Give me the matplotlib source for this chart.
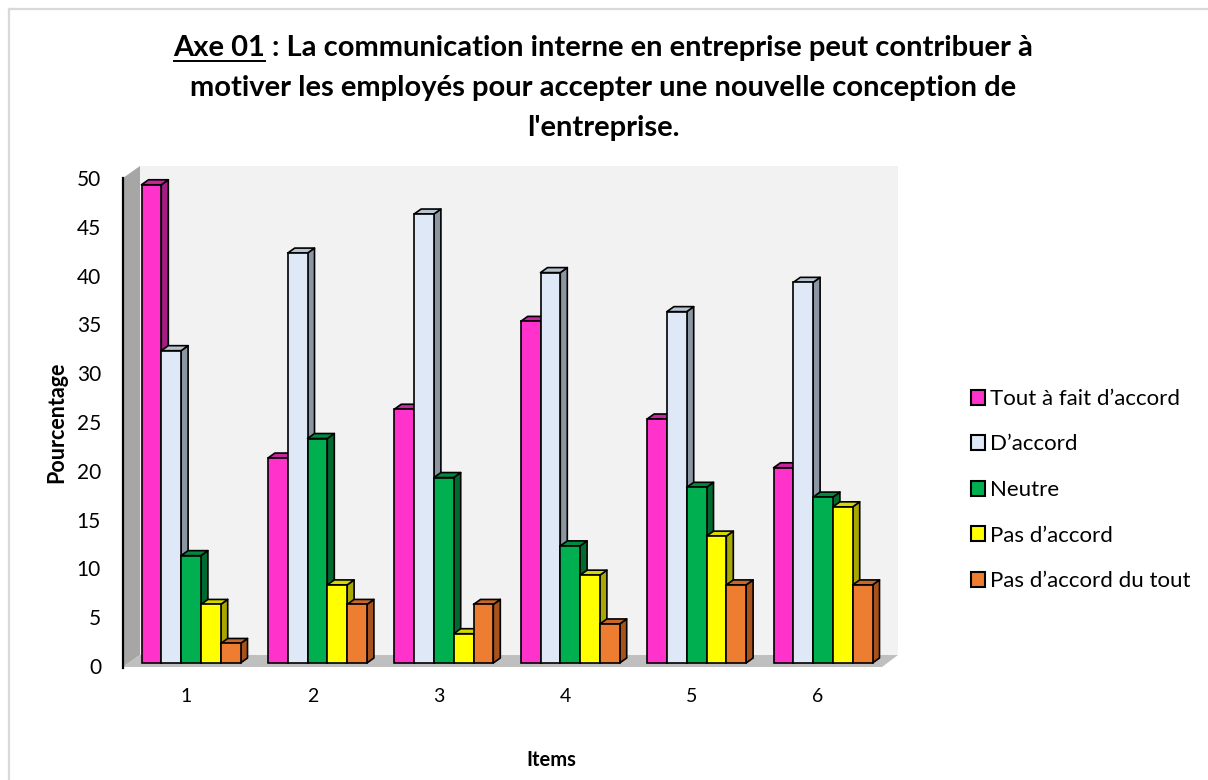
import matplotlib
matplotlib.use("Agg")
import matplotlib.pyplot as plt
from matplotlib.patches import Polygon
from matplotlib.lines import Line2D
from matplotlib import transforms as mtransforms

# ---- data -------------------------------------------------------------
items = ["1", "2", "3", "4", "5", "6"]
series_names = ["Tout à fait d’accord", "D’accord", "Neutre",
                "Pas d’accord", "Pas d’accord du tout"]
tout_a_fait = [49, 21, 26, 35, 25, 20]
d_accord = [32, 42, 46, 40, 36, 39]
neutre = [11, 23, 19, 12, 18, 17]
pas_d_accord = [6, 8, 3, 9, 13, 16]
pas_du_tout = [2, 6, 6, 4, 8, 8]
y_ticks = [0, 5, 10, 15, 20, 25, 30, 35, 40, 45, 50]

title_lines = ["Axe 01 : La communication interne en entreprise peut contribuer à",
               "motiver les employés pour accepter une nouvelle conception de",
               "l'entreprise."]
underlined_part = "Axe 01"

# ---- style ------------------------------------------------------------
front_colors = ["#FF33CC", "#DEE8F6", "#00B050", "#FFFF00", "#ED7D31"]
top_colors = ["#C8269E", "#B7C3CF", "#008A3E", "#D6D600", "#C9672A"]
side_colors = ["#A51E86", "#8C96A3", "#006B30", "#A8A800", "#A8531C"]

FONT = "Lato"
TITLE_SIZE = 21
W, H = 1208, 780
fig = plt.figure(figsize=(W / 100, H / 100), dpi=100)
fig.patch.set_facecolor("white")


def fx(px):
    return px / W


def fy(py):
    return 1 - py / H


# plot box (pixel geometry of the 3D frame)
ax_left, ax_right, ax_top, ax_bottom = 123, 898, 165, 668
ax = fig.add_axes([fx(ax_left), fy(ax_bottom), fx(ax_right - ax_left),
                   (ax_bottom - ax_top) / H])
ax.patch.set_alpha(0)
ax.set_zorder(2)

# scale: y=0 sits at pixel 663, 9.76 px per unit; groups 126.4 px apart
px_per_unit_y = 9.76
zero_px = 663
ylo = -(ax_bottom - zero_px) / px_per_unit_y
yhi = (zero_px - ax_top) / px_per_unit_y
group_px = 126.4
first_center_px = 191
xlo = 1 + (ax_left - first_center_px) / group_px
xhi = 1 + (ax_right - first_center_px) / group_px
ax.set_xlim(xlo, xhi)
ax.set_ylim(ylo, yhi)

for s in ["top", "right", "bottom"]:
    ax.spines[s].set_visible(False)
ax.spines["left"].set_linewidth(1.6)
ax.spines["left"].set_color("black")
ax.spines["left"].set_bounds(ylo, (zero_px - 178) / px_per_unit_y)
ax.set_xticks([])
ax.set_yticks([])

# ---- walls and floor (drawn in figure pixels, behind the axes) ----------
def fig_poly(pts, color):
    p = Polygon([(fx(x), fy(y)) for x, y in pts], closed=True,
                facecolor=color, edgecolor="none",
                transform=fig.transFigure, zorder=-1)
    fig.patches.append(p)

fig_poly([(140, 166), (898, 166), (898, 655), (140, 655)], "#F2F2F2")
fig_poly([(123, 178), (140, 166), (140, 655), (123, 667)], "#A6A6A6")
fig_poly([(123, 667), (140, 655), (898, 655), (882, 667)], "#BFBFBF")

# outer chart border
fig.add_artist(Line2D([fx(9), 1], [fy(9), fy(9)], transform=fig.transFigure,
                      color="#D9D9D9", lw=1.6, zorder=-1))
fig.add_artist(Line2D([fx(9), fx(9)], [fy(9), 0], transform=fig.transFigure,
                      color="#D9D9D9", lw=1.6, zorder=-1))

# ---- bars -------------------------------------------------------------
all_series = [tout_a_fait, d_accord, neutre, pas_d_accord, pas_du_tout]
n = len(all_series)
bar_w = 19.8 / group_px
depth_dx = 7 / group_px
depth_dy = 5 / px_per_unit_y
x_centers = list(range(1, len(items) + 1))
edge_lw = 1.2

handles = []
for j, vals in enumerate(all_series):
    xs = [c + (j - (n - 1) / 2) * bar_w for c in x_centers]
    z = 2 + j * 0.1
    bars = ax.bar(xs, vals, width=bar_w, color=front_colors[j],
                  edgecolor="black", linewidth=edge_lw, zorder=z + 0.05,
                  label=series_names[j])
    handles.append(bars)
    for rect in bars:
        x0 = rect.get_x()
        x1 = x0 + rect.get_width()
        h = rect.get_height()
        top = Polygon([(x0, h), (x1, h), (x1 + depth_dx, h + depth_dy),
                       (x0 + depth_dx, h + depth_dy)], closed=True,
                      facecolor=top_colors[j], edgecolor="black",
                      linewidth=edge_lw, zorder=z, joinstyle="round")
        side = Polygon([(x1, 0), (x1 + depth_dx, depth_dy),
                        (x1 + depth_dx, h + depth_dy), (x1, h)], closed=True,
                       facecolor=side_colors[j], edgecolor="black",
                       linewidth=edge_lw, zorder=z, joinstyle="round")
        ax.add_patch(side)
        ax.add_patch(top)

# ---- tick labels ------------------------------------------------------
ytrans = mtransforms.offset_copy(
    mtransforms.blended_transform_factory(ax.transAxes, ax.transData),
    fig=fig, x=-22, y=-5, units="dots")
for v in y_ticks:
    ax.text(0, v, str(v), transform=ytrans, ha="right", va="center",
            fontsize=15, family=FONT, color="black")

xtrans = mtransforms.offset_copy(
    mtransforms.blended_transform_factory(ax.transData, fig.transFigure),
    fig=fig, x=-5, y=0, units="dots")
for c, lab in zip(x_centers, items):
    ax.text(c, fy(697), lab, transform=xtrans, ha="center", va="center",
            fontsize=14, family=FONT, color="black")

# axis titles
fig.text(fx(57), fy(422), "Pourcentage", rotation=90, ha="center",
         va="center", fontsize=15.5, fontweight="bold", family=FONT)
fig.text(fx(551), fy(760), "Items", ha="center", va="center",
         fontsize=14.5, fontweight="bold", family=FONT)

# ---- legend -----------------------------------------------------------
leg = fig.legend(handles=handles, labels=series_names, loc="upper left",
                 bbox_to_anchor=(fx(962), fy(380)), frameon=False,
                 prop={"family": FONT, "size": 16}, handlelength=0.65,
                 handleheight=0.65, handletextpad=0.2, labelspacing=1.15,
                 borderaxespad=0)
for p in leg.get_patches():
    p.set_linewidth(1.5)

# ---- title with underlined prefix -----------------------------------
title_y = [48, 88, 128]
renderer = fig.canvas.get_renderer()
title_texts = []
for line, yy in zip(title_lines, title_y):
    t = fig.text(0.5 * (fx(172) + fx(1035)), fy(yy), line, ha="center",
                 va="center", fontsize=TITLE_SIZE, fontweight="bold",
                 family=FONT)
    title_texts.append(t)

bb = title_texts[0].get_window_extent(renderer)
probe = fig.text(0, 0, underlined_part, fontsize=TITLE_SIZE,
                 fontweight="bold", family=FONT)
pw = probe.get_window_extent(renderer).width
probe.remove()
ul_y = bb.y0 + 0.5
fig.add_artist(Line2D([bb.x0 / W, (bb.x0 + pw) / W], [ul_y / H, ul_y / H],
                      transform=fig.transFigure, color="black", lw=1.4))

fig.savefig("out.png", dpi=100, facecolor="white")
